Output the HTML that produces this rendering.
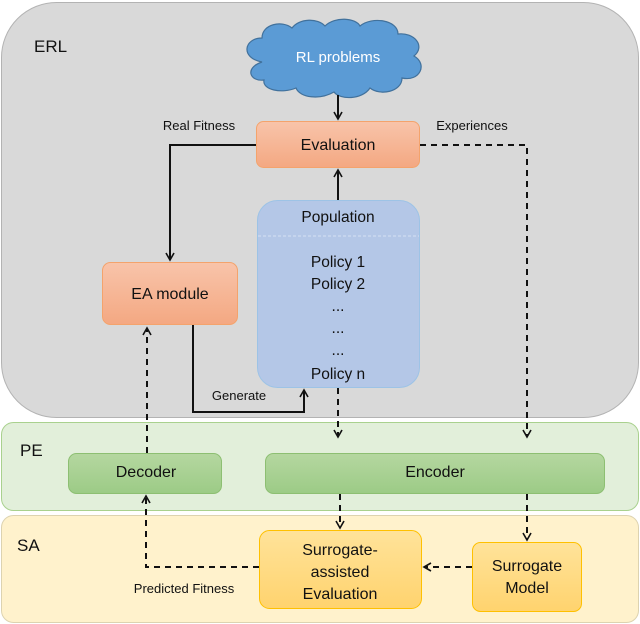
<!DOCTYPE html>
<html><head><meta charset="utf-8"><style>body{margin:0;background:#fff}svg{display:block}text{font-family:"Liberation Sans",sans-serif;fill:#111}</style></head><body>
<svg width="640" height="624" viewBox="0 0 640 624" xmlns="http://www.w3.org/2000/svg">
<defs>
<linearGradient id="or" x1="0" y1="0" x2="0" y2="1"><stop offset="0" stop-color="#f8c4aa"/><stop offset="1" stop-color="#f4a882"/></linearGradient>
<linearGradient id="gr" x1="0" y1="0" x2="0" y2="1"><stop offset="0" stop-color="#b5d7a0"/><stop offset="1" stop-color="#9ccb86"/></linearGradient>
<linearGradient id="ye" x1="0" y1="0" x2="0" y2="1"><stop offset="0" stop-color="#ffe39a"/><stop offset="1" stop-color="#ffd36e"/></linearGradient>
<marker id="a" markerWidth="10" markerHeight="10" refX="8" refY="5" orient="auto" markerUnits="userSpaceOnUse"><path d="M1,1 L8,5 L1,9" fill="none" stroke="#111" stroke-width="1.6"/></marker>
</defs>
<rect x="1.5" y="2.5" width="637" height="415" rx="55" fill="#d9d9d9" stroke="#b3b3b3"/>
<rect x="1.5" y="422.5" width="637" height="88" rx="12" fill="#e2efda" stroke="#a9d18e"/>
<rect x="1.5" y="515.5" width="637" height="107" rx="12" fill="#fff2cc" stroke="#ddd3b0"/>
<text x="34" y="52" font-size="17">ERL</text>
<text x="20" y="456" font-size="17">PE</text>
<text x="17" y="551" font-size="17">SA</text>
<path d="M262,62 C240,58 244,38 262,38 C262,24 282,20 292,28 C300,18 318,18 325,26 C335,16 356,18 360,26 C372,16 398,20 398,34 C414,32 426,46 414,56 C428,64 420,82 402,78 C402,92 380,96 370,88 C362,100 340,100 334,92 C320,100 300,98 296,88 C282,94 262,90 264,80 C250,82 244,68 262,62 Z" fill="#5b9bd5" stroke="#41719c" stroke-width="1.2"/>
<text x="338" y="62" font-size="15" text-anchor="middle" style="fill:#fff">RL problems</text>
<rect x="256.5" y="121.5" width="163" height="46" rx="7" fill="url(#or)" stroke="#f4a36c"/>
<text x="338" y="150" font-size="16" text-anchor="middle">Evaluation</text>
<rect x="257.5" y="200.5" width="162" height="187" rx="20" fill="#b4c7e7" stroke="#9dc3e6"/>
<line x1="258" y1="236" x2="419" y2="236" stroke="#d6e2f3" stroke-dasharray="3,2"/>
<text x="338" y="222" font-size="15.5" text-anchor="middle">Population</text>
<text x="338" y="267" font-size="15.5" text-anchor="middle">Policy 1</text>
<text x="338" y="289" font-size="15.5" text-anchor="middle">Policy 2</text>
<text x="338" y="311" font-size="15.5" text-anchor="middle">...</text>
<text x="338" y="333" font-size="15.5" text-anchor="middle">...</text>
<text x="338" y="355" font-size="15.5" text-anchor="middle">...</text>
<text x="338" y="379" font-size="15.5" text-anchor="middle">Policy n</text>
<rect x="102.5" y="262.5" width="135" height="62" rx="8" fill="url(#or)" stroke="#f4a36c"/>
<text x="170" y="299" font-size="16" text-anchor="middle">EA module</text>
<rect x="68.5" y="453.5" width="153" height="40" rx="8" fill="url(#gr)" stroke="#8dbf72"/>
<text x="146" y="473" font-size="16" text-anchor="middle" dominant-baseline="middle">Decoder</text>
<rect x="265.5" y="453.5" width="339" height="40" rx="8" fill="url(#gr)" stroke="#8dbf72"/>
<text x="435" y="473" font-size="16" text-anchor="middle" dominant-baseline="middle">Encoder</text>
<rect x="259.5" y="530.5" width="162" height="78" rx="10" fill="url(#ye)" stroke="#ffc000"/>
<text x="340" y="555" font-size="16" text-anchor="middle">Surrogate-</text>
<text x="340" y="577" font-size="16" text-anchor="middle">assisted</text>
<text x="340" y="599" font-size="16" text-anchor="middle">Evaluation</text>
<rect x="472.5" y="542.5" width="109" height="69" rx="8" fill="url(#ye)" stroke="#ffc000"/>
<text x="527" y="571" font-size="16" text-anchor="middle">Surrogate</text>
<text x="527" y="593" font-size="16" text-anchor="middle">Model</text>
<text x="199" y="130" font-size="13" text-anchor="middle">Real Fitness</text>
<text x="472" y="130" font-size="13" text-anchor="middle">Experiences</text>
<text x="239" y="400" font-size="13" text-anchor="middle">Generate</text>
<text x="184" y="593" font-size="13" text-anchor="middle">Predicted Fitness</text>
<g fill="none" stroke="#111" stroke-width="2">
<line x1="338" y1="95" x2="338" y2="119" marker-end="url(#a)"/>
<polyline points="256,145 170,145 170,260" marker-end="url(#a)"/>
<line x1="338" y1="200" x2="338" y2="170" marker-end="url(#a)"/>
<polyline points="193,325 193,412 304,412 304,390" marker-end="url(#a)"/>
<g stroke-dasharray="6,5">
<polyline points="420,145 527,145 527,437" marker-end="url(#a)"/>
<line x1="338" y1="388" x2="338" y2="437" marker-end="url(#a)"/>
<line x1="147" y1="453" x2="147" y2="328" marker-end="url(#a)"/>
<line x1="340" y1="494" x2="340" y2="528" marker-end="url(#a)"/>
<line x1="527" y1="494" x2="527" y2="540" marker-end="url(#a)"/>
<line x1="472" y1="567" x2="424" y2="567" marker-end="url(#a)"/>
<polyline points="259,567 146,567 146,496" marker-end="url(#a)"/>
</g>
</g>
</svg>
</body></html>
